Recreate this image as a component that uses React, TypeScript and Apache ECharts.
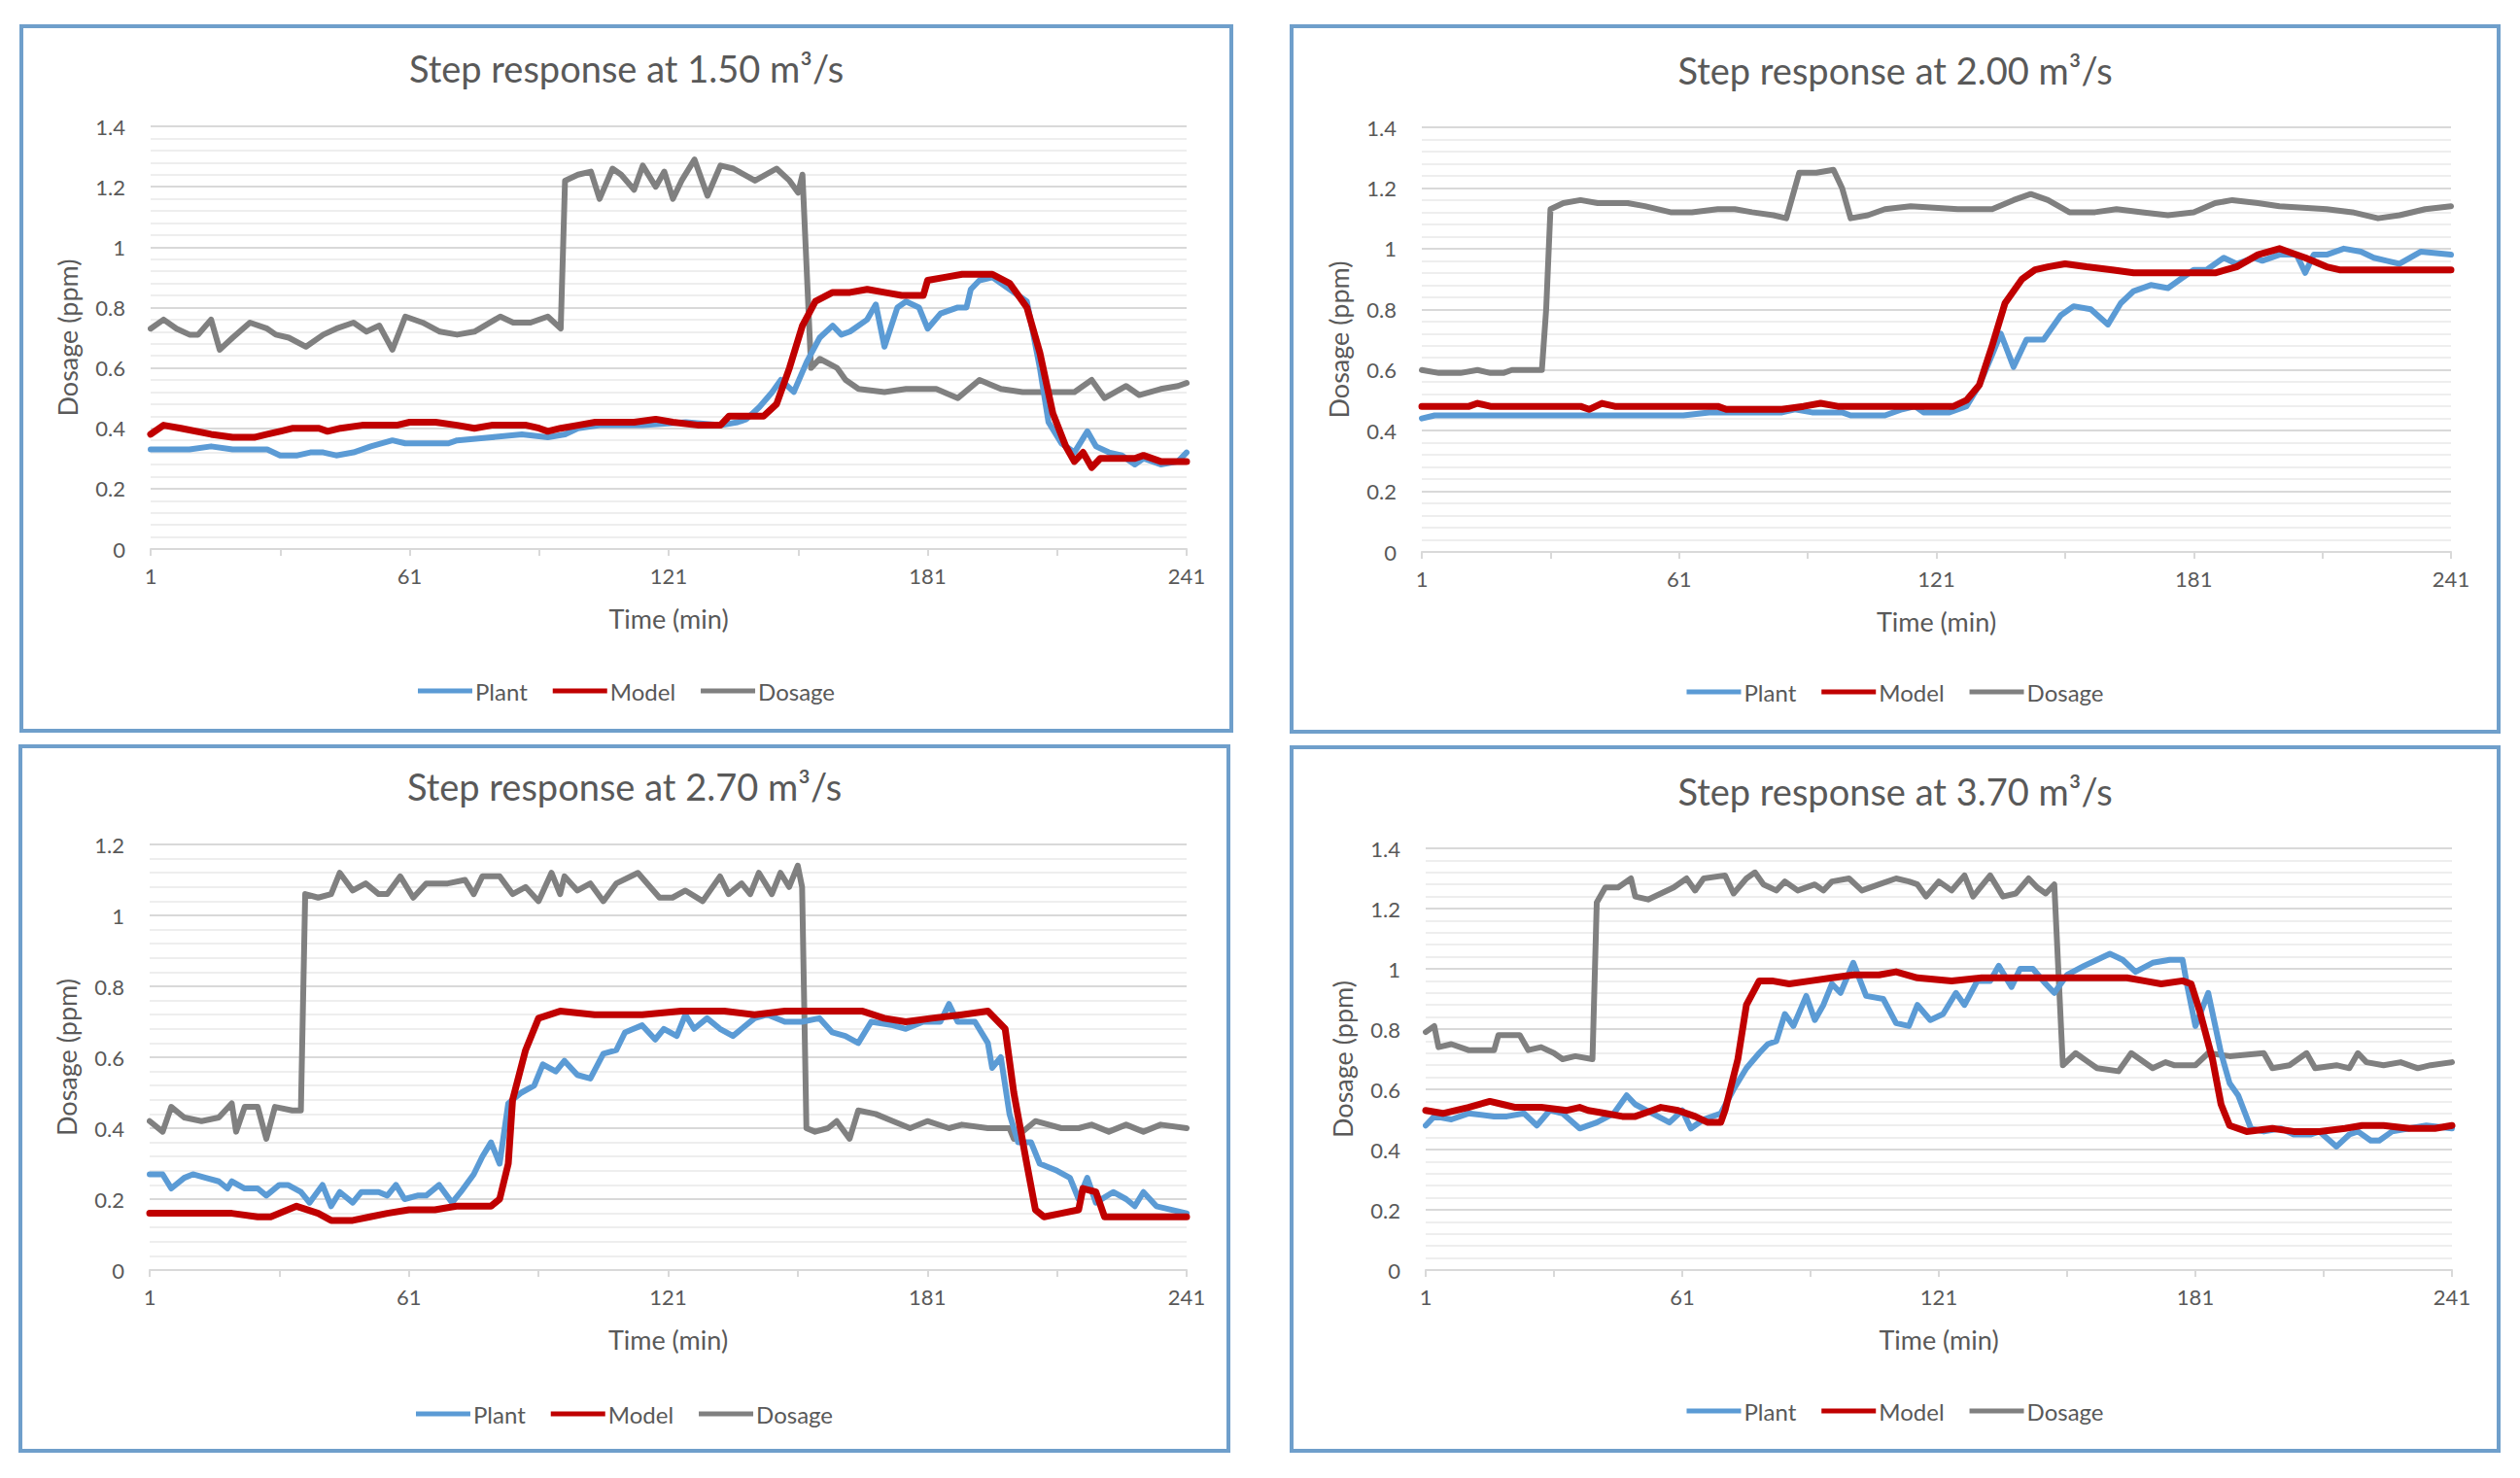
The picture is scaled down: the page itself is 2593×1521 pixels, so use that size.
import React, { useEffect, useRef } from 'react';
import * as echarts from 'echarts';

const xTickLabels = ['1', '61', '121', '181', '241'];
const seriesNames = ['Plant', 'Model', 'Dosage'];
const seriesColors = ['#5B9BD5', '#C00000', '#808080'];
const titles = [
  'Step response at 1.50 m³/s',
  'Step response at 2.00 m³/s',
  'Step response at 2.70 m³/s',
  'Step response at 3.70 m³/s',
];
const yMaxes = [1.4, 1.4, 1.2, 1.4];

// ---- Panel 1 (1.50 m3/s): [time (min), value (ppm)]
const p1Plant = [[1,0.33],[10,0.33],[15,0.34],[20,0.33],[25,0.33],[28,0.33],[31,0.31],[35,0.31],[38,0.32],[41,0.32],[44,0.31],[48,0.32],[52,0.34],[57,0.36],[60,0.35],[65,0.35],[70,0.35],[72,0.36],[80,0.37],[87,0.38],[93,0.37],[97,0.38],[100,0.40],[105,0.41],[115,0.41],[125,0.42],[133,0.41],[137,0.42],[139,0.43],[142,0.47],[145,0.52],[147,0.56],[150,0.52],[153,0.62],[156,0.70],[159,0.74],[161,0.71],[163,0.72],[167,0.76],[169,0.81],[171,0.67],[174,0.80],[176,0.82],[179,0.80],[181,0.73],[184,0.78],[188,0.80],[190,0.80],[191,0.86],[193,0.89],[196,0.90],[200,0.86],[204,0.82],[207,0.60],[209,0.42],[212,0.35],[215,0.32],[218,0.39],[220,0.34],[223,0.32],[226,0.31],[229,0.28],[231,0.30],[235,0.28],[239,0.29],[241,0.32]];
const p1Model = [[1,0.38],[4,0.41],[8,0.40],[15,0.38],[20,0.37],[25,0.37],[28,0.38],[31,0.39],[34,0.40],[40,0.40],[42,0.39],[45,0.40],[50,0.41],[58,0.41],[61,0.42],[67,0.42],[72,0.41],[76,0.40],[80,0.41],[88,0.41],[91,0.40],[93,0.39],[96,0.40],[100,0.41],[104,0.42],[110,0.42],[113,0.42],[118,0.43],[122,0.42],[128,0.41],[133,0.41],[135,0.44],[143,0.44],[146,0.48],[149,0.60],[152,0.74],[155,0.82],[159,0.85],[163,0.85],[167,0.86],[171,0.85],[175,0.84],[180,0.84],[181,0.89],[185,0.90],[189,0.91],[196,0.91],[200,0.88],[204,0.80],[207,0.65],[210,0.45],[213,0.34],[215,0.29],[217,0.32],[219,0.27],[221,0.30],[229,0.30],[231,0.31],[235,0.29],[241,0.29]];
const p1Dosage = [[1,0.73],[4,0.76],[7,0.73],[10,0.71],[12,0.71],[15,0.76],[17,0.66],[20,0.70],[24,0.75],[28,0.73],[30,0.71],[33,0.70],[37,0.67],[41,0.71],[44,0.73],[48,0.75],[51,0.72],[54,0.74],[57,0.66],[60,0.77],[64,0.75],[68,0.72],[72,0.71],[76,0.72],[82,0.77],[85,0.75],[89,0.75],[93,0.77],[96,0.73],[97,1.22],[100,1.24],[103,1.25],[105,1.16],[108,1.26],[110,1.24],[113,1.19],[115,1.27],[118,1.20],[120,1.25],[122,1.16],[124,1.22],[127,1.29],[130,1.17],[133,1.27],[136,1.26],[141,1.22],[146,1.26],[149,1.22],[151,1.18],[152,1.24],[154,0.60],[156,0.63],[160,0.60],[162,0.56],[165,0.53],[171,0.52],[176,0.53],[183,0.53],[188,0.50],[193,0.56],[198,0.53],[203,0.52],[215,0.52],[219,0.56],[222,0.50],[227,0.54],[230,0.51],[235,0.53],[239,0.54],[241,0.55]];

// ---- Panel 2 (2.00 m3/s)
const p2Plant = [[1,0.44],[4,0.45],[20,0.45],[40,0.45],[58,0.45],[62,0.45],[68,0.46],[85,0.46],[88,0.47],[92,0.46],[99,0.46],[101,0.45],[109,0.45],[113,0.47],[116,0.48],[118,0.46],[124,0.46],[128,0.48],[131,0.55],[134,0.65],[136,0.72],[139,0.61],[142,0.70],[146,0.70],[150,0.78],[153,0.81],[157,0.80],[161,0.75],[164,0.82],[167,0.86],[171,0.88],[175,0.87],[178,0.90],[181,0.93],[184,0.93],[188,0.97],[191,0.95],[195,0.97],[197,0.96],[201,0.98],[205,0.98],[207,0.92],[209,0.98],[212,0.98],[216,1.00],[220,0.99],[223,0.97],[226,0.96],[229,0.95],[234,0.99],[241,0.98]];
const p2Model = [[1,0.48],[12,0.48],[14,0.49],[17,0.48],[38,0.48],[40,0.47],[43,0.49],[46,0.48],[70,0.48],[72,0.47],[85,0.47],[90,0.48],[94,0.49],[98,0.48],[125,0.48],[128,0.50],[131,0.55],[134,0.68],[137,0.82],[141,0.90],[144,0.93],[147,0.94],[151,0.95],[156,0.94],[162,0.93],[167,0.92],[186,0.92],[191,0.94],[196,0.98],[201,1.00],[203,0.99],[207,0.97],[212,0.94],[215,0.93],[241,0.93]];
const p2Dosage = [[1,0.60],[5,0.59],[10,0.59],[14,0.60],[17,0.59],[20,0.59],[22,0.60],[29,0.60],[30,0.80],[31,1.13],[34,1.15],[38,1.16],[42,1.15],[49,1.15],[53,1.14],[59,1.12],[64,1.12],[70,1.13],[74,1.13],[78,1.12],[83,1.11],[86,1.10],[89,1.25],[93,1.25],[97,1.26],[99,1.20],[101,1.10],[105,1.11],[109,1.13],[115,1.14],[126,1.13],[134,1.13],[139,1.16],[143,1.18],[147,1.16],[152,1.12],[158,1.12],[163,1.13],[169,1.12],[175,1.11],[181,1.12],[186,1.15],[190,1.16],[196,1.15],[201,1.14],[212,1.13],[218,1.12],[224,1.10],[229,1.11],[235,1.13],[241,1.14]];

// ---- Panel 3 (2.70 m3/s)
const p3Plant = [[1,0.27],[4,0.27],[6,0.23],[9,0.26],[11,0.27],[14,0.26],[17,0.25],[19,0.23],[20,0.25],[23,0.23],[26,0.23],[28,0.21],[31,0.24],[33,0.24],[36,0.22],[38,0.19],[41,0.24],[43,0.18],[45,0.22],[48,0.19],[50,0.22],[54,0.22],[56,0.21],[58,0.24],[60,0.20],[63,0.21],[65,0.21],[68,0.24],[71,0.19],[73,0.22],[76,0.27],[78,0.32],[80,0.36],[82,0.30],[84,0.47],[87,0.50],[90,0.52],[92,0.58],[95,0.56],[97,0.59],[100,0.55],[103,0.54],[106,0.61],[109,0.62],[111,0.67],[113,0.68],[115,0.69],[118,0.65],[120,0.68],[123,0.66],[125,0.72],[127,0.68],[130,0.71],[133,0.68],[136,0.66],[138,0.68],[141,0.71],[144,0.72],[148,0.70],[152,0.70],[156,0.71],[159,0.67],[162,0.66],[165,0.64],[168,0.70],[173,0.69],[176,0.68],[180,0.70],[184,0.70],[186,0.75],[188,0.70],[192,0.70],[195,0.64],[196,0.57],[198,0.60],[200,0.44],[202,0.36],[205,0.36],[207,0.30],[211,0.28],[214,0.26],[216,0.20],[218,0.26],[220,0.19],[224,0.22],[227,0.20],[229,0.18],[231,0.22],[234,0.18],[241,0.16]];
const p3Model = [[1,0.16],[20,0.16],[26,0.15],[29,0.15],[35,0.18],[40,0.16],[43,0.14],[48,0.14],[52,0.15],[56,0.16],[61,0.17],[67,0.17],[72,0.18],[80,0.18],[82,0.20],[84,0.30],[85,0.48],[88,0.62],[91,0.71],[96,0.73],[104,0.72],[115,0.72],[124,0.73],[134,0.73],[141,0.72],[148,0.73],[162,0.73],[166,0.73],[171,0.71],[176,0.70],[182,0.71],[189,0.72],[195,0.73],[199,0.68],[201,0.50],[204,0.30],[206,0.17],[208,0.15],[212,0.16],[216,0.17],[217,0.23],[220,0.22],[222,0.15],[241,0.15]];
const p3Dosage = [[1,0.42],[4,0.39],[6,0.46],[9,0.43],[13,0.42],[17,0.43],[20,0.47],[21,0.39],[23,0.46],[26,0.46],[28,0.37],[30,0.46],[34,0.45],[36,0.45],[37,1.06],[40,1.05],[43,1.06],[45,1.12],[48,1.07],[51,1.09],[54,1.06],[56,1.06],[59,1.11],[62,1.05],[65,1.09],[70,1.09],[74,1.10],[76,1.06],[78,1.11],[82,1.11],[85,1.06],[88,1.08],[91,1.04],[94,1.12],[96,1.06],[97,1.11],[100,1.07],[103,1.09],[106,1.04],[109,1.09],[114,1.12],[119,1.05],[122,1.05],[125,1.07],[129,1.04],[133,1.11],[135,1.06],[138,1.09],[140,1.06],[142,1.12],[145,1.06],[147,1.12],[149,1.08],[151,1.14],[152,1.08],[153,0.40],[155,0.39],[158,0.40],[160,0.42],[163,0.37],[165,0.45],[169,0.44],[173,0.42],[177,0.40],[181,0.42],[186,0.40],[189,0.41],[195,0.40],[200,0.40],[201,0.37],[206,0.42],[212,0.40],[216,0.40],[219,0.41],[223,0.39],[227,0.41],[231,0.39],[235,0.41],[241,0.40]];

// ---- Panel 4 (3.70 m3/s)
const p4Plant = [[1,0.48],[3,0.51],[7,0.50],[11,0.52],[17,0.51],[20,0.51],[24,0.52],[27,0.48],[30,0.53],[33,0.52],[37,0.47],[41,0.49],[45,0.52],[48,0.58],[50,0.55],[54,0.52],[58,0.49],[61,0.53],[63,0.47],[66,0.50],[70,0.52],[73,0.60],[76,0.67],[79,0.72],[81,0.75],[83,0.76],[85,0.85],[87,0.81],[90,0.91],[92,0.83],[94,0.88],[96,0.95],[98,0.92],[101,1.02],[104,0.91],[108,0.90],[111,0.82],[114,0.81],[116,0.88],[119,0.83],[122,0.85],[125,0.92],[127,0.88],[130,0.96],[133,0.96],[135,1.01],[138,0.94],[140,1.00],[143,1.00],[146,0.95],[148,0.92],[151,0.98],[155,1.01],[158,1.03],[161,1.05],[164,1.03],[167,0.99],[171,1.02],[175,1.03],[178,1.03],[179,0.95],[181,0.81],[184,0.92],[187,0.72],[189,0.62],[191,0.58],[194,0.47],[197,0.46],[201,0.47],[204,0.45],[208,0.45],[210,0.46],[214,0.41],[217,0.45],[219,0.46],[222,0.43],[224,0.43],[227,0.46],[231,0.47],[235,0.48],[241,0.47]];
const p4Model = [[1,0.53],[5,0.52],[11,0.54],[16,0.56],[19,0.55],[22,0.54],[28,0.54],[34,0.53],[37,0.54],[39,0.53],[43,0.52],[47,0.51],[50,0.51],[54,0.53],[56,0.54],[60,0.53],[64,0.51],[67,0.49],[70,0.49],[71,0.53],[74,0.70],[76,0.88],[79,0.96],[82,0.96],[86,0.95],[91,0.96],[96,0.97],[101,0.98],[107,0.98],[111,0.99],[116,0.97],[124,0.96],[131,0.97],[142,0.97],[159,0.97],[165,0.97],[169,0.96],[173,0.95],[178,0.96],[180,0.95],[182,0.86],[185,0.70],[187,0.55],[189,0.48],[193,0.46],[199,0.47],[204,0.46],[210,0.46],[216,0.47],[220,0.48],[225,0.48],[231,0.47],[237,0.47],[241,0.48]];
const p4Dosage = [[1,0.79],[3,0.81],[4,0.74],[7,0.75],[11,0.73],[17,0.73],[18,0.78],[23,0.78],[25,0.73],[28,0.74],[31,0.72],[33,0.70],[36,0.71],[40,0.70],[41,1.22],[43,1.27],[46,1.27],[49,1.30],[50,1.24],[53,1.23],[56,1.25],[59,1.27],[62,1.30],[64,1.26],[66,1.30],[71,1.31],[73,1.25],[76,1.30],[78,1.32],[80,1.28],[83,1.26],[85,1.29],[88,1.26],[92,1.28],[94,1.26],[96,1.29],[100,1.30],[103,1.26],[107,1.28],[111,1.30],[114,1.29],[116,1.28],[118,1.24],[121,1.29],[124,1.26],[127,1.31],[129,1.24],[133,1.31],[136,1.24],[139,1.25],[142,1.30],[144,1.27],[146,1.25],[148,1.28],[150,0.68],[153,0.72],[156,0.69],[158,0.67],[163,0.66],[166,0.72],[171,0.67],[174,0.69],[176,0.68],[181,0.68],[184,0.72],[189,0.71],[197,0.72],[199,0.67],[203,0.68],[207,0.72],[209,0.67],[214,0.68],[217,0.67],[219,0.72],[221,0.69],[225,0.68],[229,0.69],[233,0.67],[236,0.68],[241,0.69]];

const panelData = [
  [p1Plant, p1Model, p1Dosage],
  [p2Plant, p2Model, p2Dosage],
  [p3Plant, p3Model, p3Dosage],
  [p4Plant, p4Model, p4Dosage],
];

// layout (pixels)
const panelBoxes = [
  { left: 20, top: 25, width: 1249, height: 729, grid: { left: 131, right: 44, top: 101, bottom: 185 }, titleTop: 17, legendBottom: 22 },
  { left: 1327, top: 25, width: 1246, height: 730, grid: { left: 132, right: 47, top: 102, bottom: 183 }, titleTop: 19, legendBottom: 22 },
  { left: 19, top: 766, width: 1247, height: 729, grid: { left: 131, right: 41, top: 99, bottom: 184 }, titleTop: 15, legendBottom: 19 },
  { left: 1327, top: 767, width: 1246, height: 728, grid: { left: 136, right: 46, top: 102, bottom: 184 }, titleTop: 19, legendBottom: 22 },
];

const FONT = 'Lato, "Open Sans", sans-serif';
const TEXT = '#595959';
const BORDER = 4;

function buildOption(i: number) {
  const box = panelBoxes[i];
  const data = panelData[i];
  const order = [2, 0, 1]; // draw Dosage first, Model on top
  return {
    animation: false,
    backgroundColor: '#ffffff',
    textStyle: { fontFamily: FONT },
    title: {
      text: titles[i],
      left: 'center',
      top: box.titleTop,
      textStyle: { fontFamily: FONT, fontSize: 38, fontWeight: 'normal', color: TEXT },
    },
    legend: {
      data: seriesNames,
      bottom: box.legendBottom,
      left: 'center',
      icon: 'rect',
      itemWidth: 56,
      itemHeight: 5,
      itemGap: 26,
      textStyle: { fontFamily: FONT, fontSize: 24, color: TEXT, padding: [0, 0, 0, -2] },
    },
    grid: { ...box.grid },
    xAxis: {
      type: 'value',
      min: 0,
      max: 240,
      interval: 30,
      name: 'Time (min)',
      nameLocation: 'middle',
      nameGap: 58,
      nameTextStyle: { fontFamily: FONT, fontSize: 27, color: TEXT },
      axisLine: { show: true, lineStyle: { color: '#d9d9d9', width: 2 } },
      axisTick: { show: true, length: 7, lineStyle: { color: '#d9d9d9', width: 2 } },
      splitLine: { show: false },
      axisLabel: {
        fontFamily: FONT,
        fontSize: 22,
        color: TEXT,
        margin: 16,
        showMinLabel: true,
        showMaxLabel: true,
        formatter: (v: number) => (v % 60 === 0 ? xTickLabels[v / 60] : ''),
      },
    },
    yAxis: {
      type: 'value',
      min: 0,
      max: yMaxes[i],
      interval: 0.2,
      name: 'Dosage (ppm)',
      nameLocation: 'middle',
      nameGap: 72,
      nameTextStyle: { fontFamily: FONT, fontSize: 27, color: TEXT },
      axisLine: { show: false },
      axisTick: { show: false },
      axisLabel: { fontFamily: FONT, fontSize: 22, color: TEXT, margin: 26 },
      splitLine: { show: true, lineStyle: { color: '#d9d9d9', width: 2 } },
      minorTick: { show: false, splitNumber: 5 },
      minorSplitLine: { show: true, lineStyle: { color: '#eeeeee', width: 2 } },
    },
    series: order.map((k) => ({
      name: seriesNames[k],
      type: 'line',
      showSymbol: false,
      symbol: 'none',
      smooth: false,
      color: seriesColors[k],
      lineStyle: { color: seriesColors[k], width: k === 1 ? 7 : 6, join: 'round', cap: 'round' },
      data: data[k].map((p) => [p[0] - 1, p[1]]),
    })),
  };
}

function Panel({ index }: { index: number }) {
  const ref = useRef<HTMLDivElement>(null);
  useEffect(() => {
    if (!ref.current) return;
    const chart = echarts.init(ref.current, undefined, { renderer: 'svg' });
    chart.setOption(buildOption(index) as any);
    return () => chart.dispose();
  }, [index]);
  const box = panelBoxes[index];
  return (
    <div
      style={{
        position: 'absolute',
        left: box.left,
        top: box.top,
        width: box.width,
        height: box.height,
        boxSizing: 'border-box',
        border: `${BORDER}px solid #6f9fcb`,
        background: '#ffffff',
      }}
    >
      <div ref={ref} style={{ width: box.width - 2 * BORDER, height: box.height - 2 * BORDER }} />
    </div>
  );
}

export default function App() {
  return (
    <div style={{ position: 'absolute', left: 0, top: 0, width: 2593, height: 1521, background: '#ffffff' }}>
      {panelBoxes.map((_, i) => (
        <Panel key={i} index={i} />
      ))}
    </div>
  );
}
